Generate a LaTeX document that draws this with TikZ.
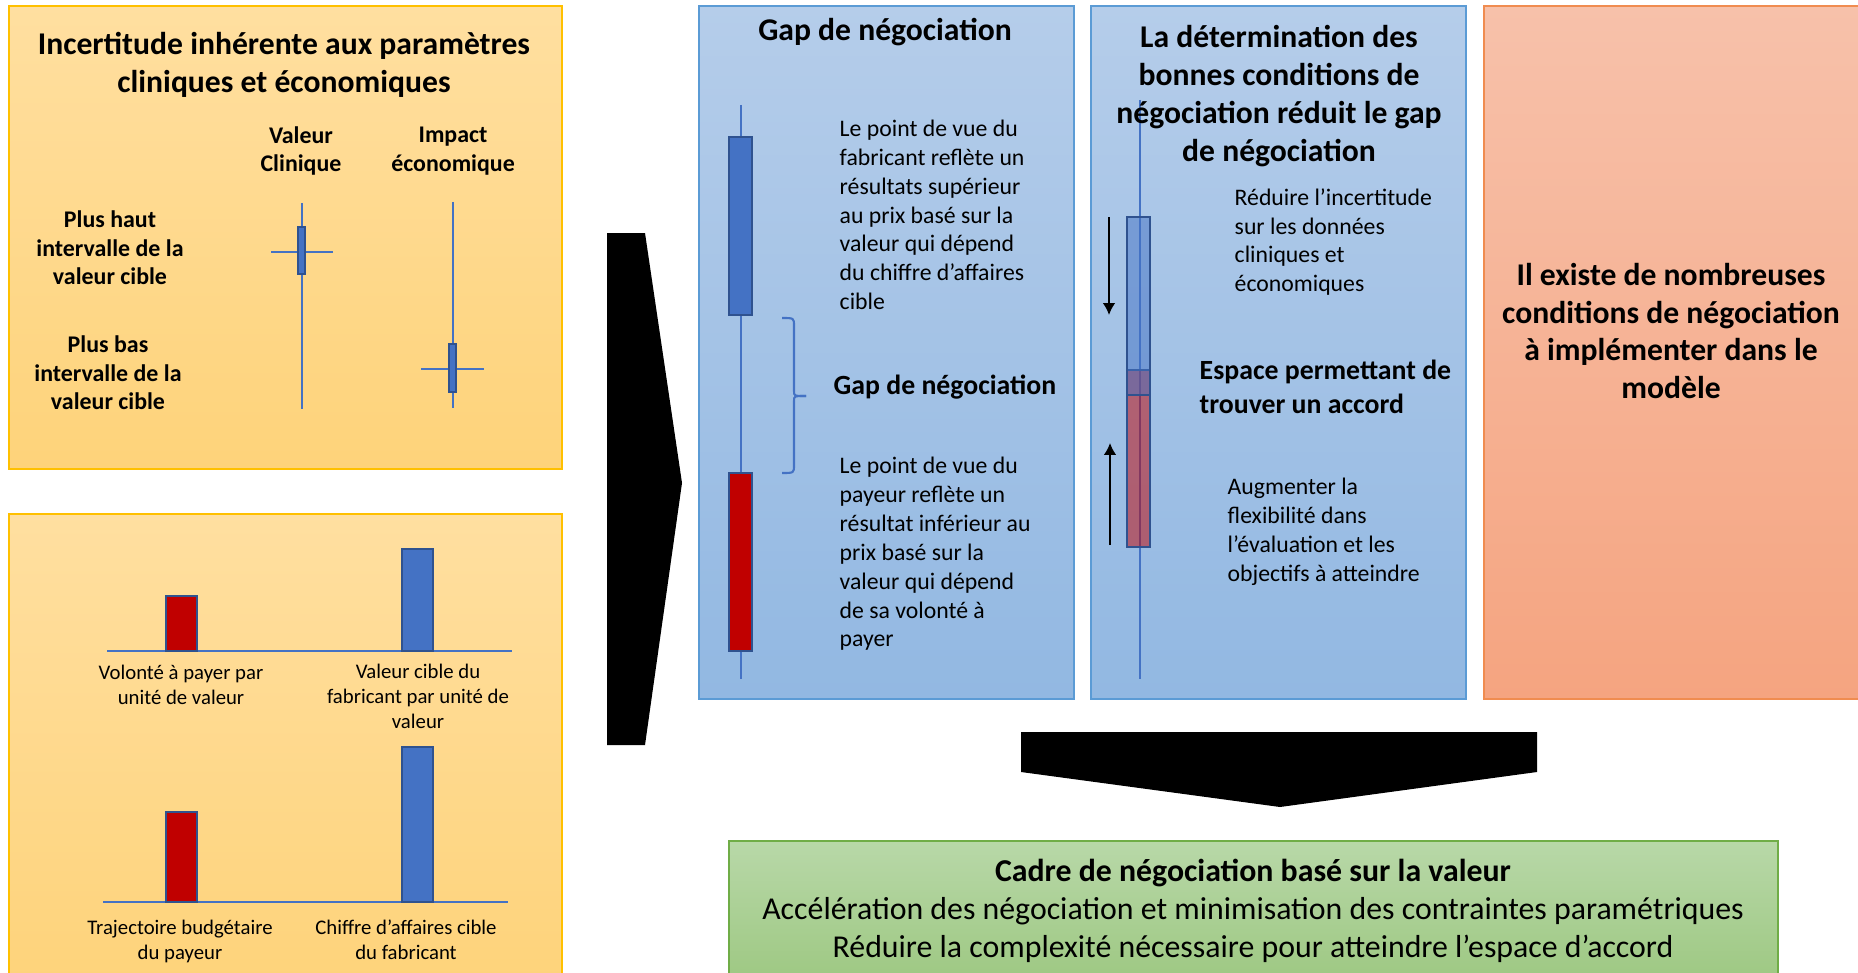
\documentclass[tikz,border=0pt]{standalone}
\usepackage{fontspec}
\setmainfont{Carlito}
\usetikzlibrary{arrows.meta,positioning}

\definecolor{orTop}{RGB}{255,223,160}
\definecolor{orBot}{RGB}{254,211,122}
\definecolor{orLine}{RGB}{255,192,0}
\definecolor{blTop}{RGB}{181,205,234}
\definecolor{blBot}{RGB}{146,184,226}
\definecolor{blLine}{RGB}{91,155,213}
\definecolor{saTop}{RGB}{247,193,170}
\definecolor{saBot}{RGB}{245,164,128}
\definecolor{saLine}{RGB}{240,140,80}
\definecolor{grTop}{RGB}{184,216,168}
\definecolor{grBot}{RGB}{156,199,128}
\definecolor{grLine}{RGB}{112,173,71}
\definecolor{barBlue}{RGB}{68,114,196}
\definecolor{barEdge}{RGB}{47,82,143}
\definecolor{barRed}{RGB}{192,0,0}

\tikzset{
  orpanel/.style={top color=orTop, bottom color=orBot, draw=orLine, line width=0.8pt},
  blpanel/.style={top color=blTop, bottom color=blBot, draw=blLine, line width=0.8pt},
  sapanel/.style={top color=saTop, bottom color=saBot, draw=saLine, line width=0.8pt},
  grpanel/.style={top color=grTop, bottom color=grBot, draw=grLine, line width=0.8pt},
  bigtitle/.style={font=\bfseries\fontsize{9}{10.8}\selectfont, align=center, inner sep=0pt},
  midtitle/.style={font=\bfseries\fontsize{7.9}{9.7}\selectfont, align=left, inner sep=0pt, anchor=west},
  colhead/.style={font=\bfseries\fontsize{6.8}{8.1}\selectfont, align=center, inner sep=0pt},
  barlabel/.style={font=\fontsize{5.9}{7.1}\selectfont, align=center, inner sep=0pt},
  bodytext/.style={font=\fontsize{6.75}{8.2}\selectfont, align=left, inner sep=0pt, anchor=west},
  greentext/.style={font=\fontsize{9.05}{10.9}\selectfont, align=center, inner sep=0pt},
  stick/.style={barBlue, line width=0.6pt},
  bar/.style={draw=barEdge, line width=0.8pt},
}

\begin{document}
\begin{tikzpicture}[x=0.01cm, y=-0.01cm]
    \clip (0,0) rectangle (1858,973);
    \fill[white] (0,0) rectangle (1858,973);

    % panels
    \path[orpanel] (9,6) rectangle (562,469);
    \path[orpanel] (9,514) rectangle (562,990);
    \path[blpanel] (699,6) rectangle (1074,699);
    \path[blpanel] (1091,6) rectangle (1466,699);
    \path[sapanel] (1484,6) rectangle (1870,699);
    \path[grpanel] (729,841) rectangle (1778,990);

    % big black arrows
    \fill (607,233) -- (645,233) -- (682,483) -- (645,745) -- (607,745) -- cycle;
    \fill (1021,732) -- (1537,732) -- (1537,772) -- (1280,807) -- (1021,772) -- cycle;

    % incertitude
    \node[bigtitle] (incTitle) at (284,65) {Incertitude inhérente aux paramètres\\cliniques et économiques};
    \node[colhead] (colClin) at (301,151) {Valeur\\Clinique};
    \node[colhead] (colEco) at (453,151) {Impact\\économique};
    \node[colhead] (rowHaut) at (110,248) {Plus haut\\intervalle de la\\valeur cible};
    \node[colhead] (rowBas) at (108,373) {Plus bas\\intervalle de la\\valeur cible};

    \draw[stick] (302,203) -- (302,409);
    \draw[stick] (271,252) -- (333,252);
    \draw[bar, fill=barBlue] (298,227) rectangle (305,274);
    \draw[stick] (453,202) -- (453,408);
    \draw[stick] (421,369) -- (484,369);
    \draw[bar, fill=barBlue] (449,344) rectangle (456,392);

    % barres payeur / fabricant
    \draw[stick] (107,651) -- (512,651);
    \draw[stick] (103,902) -- (508,902);
    \foreach \xl/\yb/\yt/\c in {166/651/596/barRed, 402/651/549/barBlue, 166/902/812/barRed, 402/902/747/barBlue}
        \draw[bar, fill=\c] (\xl,\yt) rectangle ({\xl+31},\yb);
    \node[barlabel] (lbVol) at (181,685) {Volonté à payer par\\unité de valeur};
    \node[barlabel] (lbCib) at (418,696) {Valeur cible du\\fabricant par unité de\\valeur};
    \node[barlabel] (lbTra) at (180,941) {Trajectoire budgétaire\\du payeur};
    \node[barlabel] (lbChi) at (406,940) {Chiffre d’affaires cible\\du fabricant};

    % gap de negociation
    \node[bigtitle] (gapTitle) at (885,32) {Gap de négociation};
    \draw[stick] (741,105) -- (741,679);
    \draw[bar, fill=barBlue] (729,137) rectangle (752,315);
    \draw[bar, fill=barRed] (729,473) rectangle (752,651);
    \coordinate (brTop) at (782,318);
    \coordinate (brTip) at (806,396);
    \coordinate (brBot) at (782,473);
    \draw[stick] (brTop) .. controls (794,318) .. (794,326) -- (794,391)
        .. controls (794,396) .. (brTip);
    \draw[stick] (brBot) .. controls (794,473) .. (794,465) -- (794,401)
        .. controls (794,396) .. (brTip);
    \node[bodytext] (fabView) at (839,215) {Le point de vue du\\fabricant reflète un\\résultats supérieur\\au prix basé sur la\\valeur qui dépend\\du chiffre d’affaires\\cible};
    \node[midtitle] (gapMid) at (833,387) {Gap de négociation};
    \node[bodytext] (payView) at (839,554) {Le point de vue du\\payeur reflète un\\résultat inférieur au\\prix basé sur la\\valeur qui dépend\\de sa volonté à\\payer};

    % determination
    \draw[stick] (1140,100) -- (1140,679);
    \node[bigtitle] (detTitle) at (1279,96) {La détermination des\\bonnes conditions de\\négociation réduit le gap\\de négociation};
    \draw[bar, fill=barRed, fill opacity=0.5] (1127,370) rectangle (1150,547);
    \draw[bar, fill=barBlue, fill opacity=0.5] (1127,217) rectangle (1150,395);
    \coordinate (dnA) at (1109,217);
    \coordinate (dnB) at (1109,315);
    \coordinate (upA) at (1110,545);
    \coordinate (upB) at (1110,443);
    \draw[line width=0.5pt, -{Latex[length=3.4pt,width=3.6pt]}] (dnA) -- (dnB);
    \draw[line width=0.5pt, -{Latex[length=3.4pt,width=3.6pt]}] (upA) -- (upB);
    \node[bodytext] (redInc) at (1234,242) {Réduire l’incertitude\\sur les données\\cliniques et\\économiques};
    \node[midtitle] (espace) at (1199,387) {Espace permettant de\\trouver un accord};
    \node[bodytext] (augFlex) at (1227,532) {Augmenter la\\flexibilité dans\\l’évaluation et les\\objectifs à atteindre};

    % conditions
    \node[bigtitle] (condText) at (1671,331) {Il existe de nombreuses\\conditions de négociation\\à implémenter dans le\\modèle};

    % cadre
    \node[greentext] (cadre) at (1253,911) {\textbf{Cadre de négociation basé sur la valeur}\\Accélération des négociation et minimisation des contraintes paramétriques\\Réduire la complexité nécessaire pour atteindre l’espace d’accord};
\end{tikzpicture}
\end{document}
